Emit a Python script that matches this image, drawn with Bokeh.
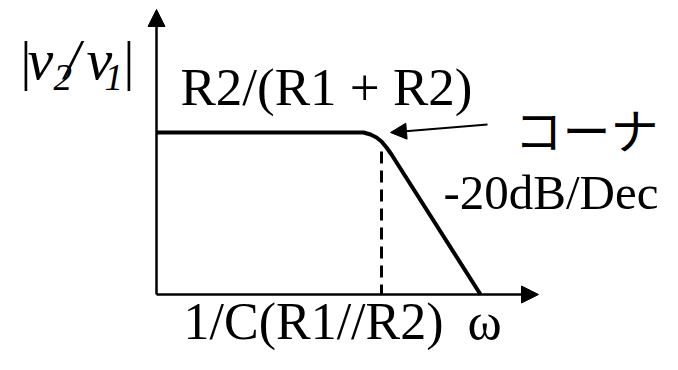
from bokeh.plotting import figure
from bokeh.models import Range1d, Arrow, NormalHead
from bokeh.core.properties import value
from bokeh.embed import file_html
from bokeh.resources import INLINE

# Schematic Bode magnitude sketch (units: origin at axes corner)
axis_x_end = 382
axis_y_end = 285
curve_x = [0, 207, 214, 220, 225, 230, 235, 324]
curve_y = [162, 162, 160, 157, 153, 147, 140, 0]
corner_x = [225, 225]
corner_y = [143, 0]
pointer_start = (331, 170)
pointer_end = (234, 162)

gain_label = "R2/(R1 + R2)"
slope_label = "-20dB/Dec"
corner_label = "1/C(R1//R2)"
omega_label = "ω"
jp_label = "コーナ"

W, H = 662, 354
p = figure(width=W, height=H, x_range=Range1d(-156, 506), y_range=Range1d(-60, 294),
           output_backend="svg", toolbar_location=None, min_border=0)
p.axis.visible = False
p.grid.visible = False
p.outline_line_color = None
p.background_fill_color = "white"
p.border_fill_color = "white"

# axes with arrows
p.add_layout(Arrow(end=NormalHead(size=17, fill_color="black", line_color="black", line_width=1),
                   x_start=0, y_start=0, x_end=0, y_end=axis_y_end,
                   line_color="black", line_width=2.5))
p.add_layout(Arrow(end=NormalHead(size=17, fill_color="black", line_color="black", line_width=1),
                   x_start=0, y_start=0, x_end=axis_x_end, y_end=0,
                   line_color="black", line_width=2.5))

# magnitude curve
p.line(curve_x, curve_y, line_color="black", line_width=4, line_join="round")
# corner dashed line
p.line(corner_x, corner_y, line_color="black", line_width=3, line_dash="12 7")

# pointer arrow to corner
p.add_layout(Arrow(end=NormalHead(size=16, fill_color="black", line_color="black", line_width=1),
                   x_start=pointer_start[0], y_start=pointer_start[1],
                   x_end=pointer_end[0], y_end=pointer_end[1],
                   line_color="black", line_width=2))

serif = value("Liberation Serif")
COMP = 0.38  # baseline compensation (em)

def txt(x, y, s, size, style="normal", font=serif):
    p.text(x=[x], y=[y + COMP * size], text=[s], text_font=font, text_font_size=f"{size}px",
           text_font_style=style, text_color="black", text_align="left",
           text_baseline="alphabetic")

# |v2/v1|
txt(-136, 213, "|", 54)
txt(-129, 213, "v", 58, "italic")
txt(-103, 203, "2", 37, "italic")
txt(-92, 213, "/", 56, "italic")
txt(-70, 213, "v", 58, "italic")
txt(-52, 203, "1", 37, "italic")
txt(-33, 213, "|", 54)

txt(24, 187, gain_label, 53)
txt(287, 83, slope_label, 49)
txt(27, -47, corner_label, 52)
txt(311, -47, omega_label, 52)
txt(358, 148, jp_label, 48, "normal", value("Noto Sans CJK JP"))

open("out.html", "w").write(file_html(p, INLINE))
